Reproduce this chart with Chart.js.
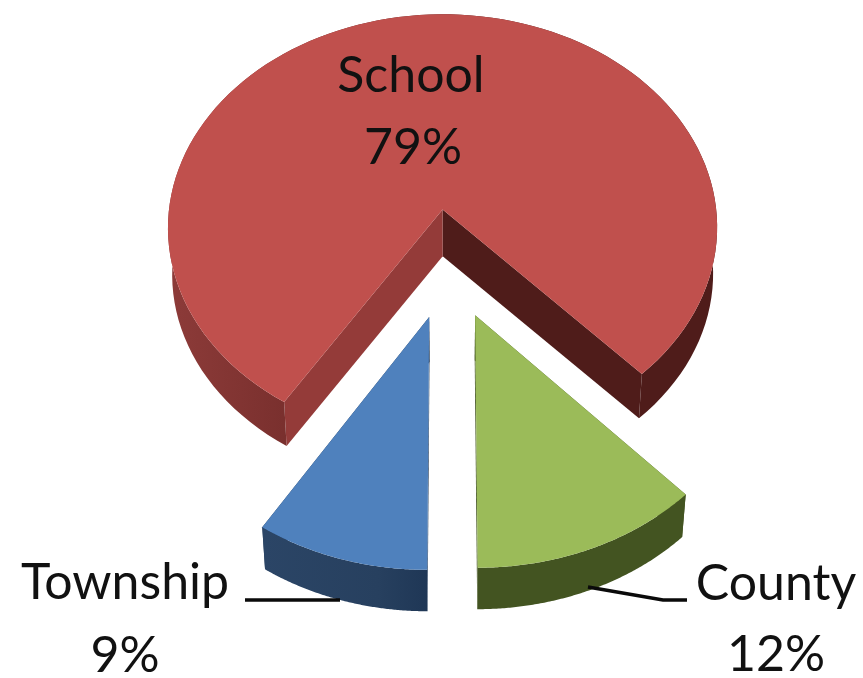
<!DOCTYPE html>
<html>
<head>
<meta charset="utf-8">
<title>Pie</title>
<script src="https://cdn.jsdelivr.net/npm/chart.js@4/dist/chart.umd.js"></script>
<style>
  html, body { margin: 0; padding: 0; background: #fff; }
  canvas { display: block; filter: blur(0.6px); }
</style>
</head>
<body>
<canvas id="myChart" width="863" height="678"></canvas>
<script>
const categories = ['School', 'County', 'Township'];
const shares = [79, 12, 9];
const topColors = ['#c0504d', '#9bbb59', '#4f81bd'];

// wall colours: outer wall gradient stops, then the two cut faces
const wallStops = [
  [[0, '#8d3b39'], [0.21, '#7a302e'], [0.5, '#5a2421'], [0.85, '#4f1c1a'], [1, '#4f1c1a']],
  [[0, '#435421'], [1, '#435421']],
  [[0, '#2b4566'], [0.7, '#27405f'], [1, '#1f3756']]
];
const cutColors = [['#4f1c1a', '#943b39'], ['#435421', '#435421'], ['#1f3756', '#1f3756']];

// label centre x and baselines
const labelX = [[411, 413], [776, 776], [125, 125]];
const labelY = [[92, 164], [600, 671], [599, 672]];

// tilted view of the flat pie
const view = { cx: 449, cy: 263, ax: 279.5, ay: 221, k: 0.087, shrink: 0.985, depth: 46 };

function project(u, v) {
  const w = 1 - view.k * v;
  return [view.cx + view.ax * u / w, view.cy + view.ay * v / w];
}

function drop(p) {
  return [
    view.cx + (p[0] - view.cx) * view.shrink,
    view.cy + (p[1] - view.cy) * view.shrink + view.depth
  ];
}

function fillPoly(ctx, pts, fill) {
  ctx.beginPath();
  pts.forEach((p, i) => i ? ctx.lineTo(p[0], p[1]) : ctx.moveTo(p[0], p[1]));
  ctx.closePath();
  ctx.fillStyle = fill;
  ctx.fill();
}

function sliceOutline(el) {
  const r = el.outerRadius;
  const mid = (el.startAngle + el.endAngle) / 2;
  const ou = el.options.offset * Math.cos(mid) / r;
  const ov = el.options.offset * Math.sin(mid) / r;
  const rim = [];
  const steps = 120;
  for (let i = 0; i <= steps; i++) {
    const a = el.startAngle + (el.endAngle - el.startAngle) * i / steps;
    rim.push(project(ou + Math.cos(a), ov + Math.sin(a)));
  }
  return { apex: project(ou, ov), rim: rim };
}

const tiltedPie = {
  id: 'tiltedPie',
  beforeDatasetsDraw(chart) {
    const ctx = chart.ctx;
    chart.getDatasetMeta(0).data.forEach((el, i) => {
      const { apex, rim } = sliceOutline(el);
      const first = rim[0];
      const last = rim[rim.length - 1];

      fillPoly(ctx, [apex, last, drop(last), drop(apex)], cutColors[i][0]);
      fillPoly(ctx, [apex, first, drop(first), drop(apex)], cutColors[i][1]);

      const xs = rim.map(p => p[0]);
      const grad = ctx.createLinearGradient(Math.min(...xs), 0, Math.max(...xs), 0);
      wallStops[i].forEach(s => grad.addColorStop(s[0], s[1]));
      fillPoly(ctx, rim.concat(rim.map(drop).reverse()), grad);

      fillPoly(ctx, [apex].concat(rim), el.options.backgroundColor);
    });
    return false; // flat arcs replaced by the tilted ones
  },
  // afterDatasetsDraw does not fire once the draw above is cancelled
  afterDraw(chart) {
    const ctx = chart.ctx;
    ctx.save();
    ctx.strokeStyle = '#0a0a0a';
    ctx.lineWidth = 3.5;
    ctx.beginPath();
    ctx.moveTo(245, 600);
    ctx.lineTo(340, 600);
    ctx.moveTo(588, 587);
    ctx.lineTo(663, 600);
    ctx.lineTo(687, 600);
    ctx.stroke();

    ctx.fillStyle = '#111';
    ctx.font = '50px Lato';
    ctx.textAlign = 'center';
    categories.forEach((name, i) => {
      ctx.fillText(name, labelX[i][0], labelY[i][0]);
      ctx.fillText(shares[i] + '%', labelX[i][1], labelY[i][1]);
    });
    ctx.restore();
  }
};

new Chart(document.getElementById('myChart').getContext('2d'), {
  type: 'pie',
  data: {
    labels: categories,
    datasets: [{
      data: shares,
      backgroundColor: topColors,
      borderWidth: 0,
      offset: 75
    }]
  },
  options: {
    responsive: false,
    animation: false,
    rotation: 212.4,
    plugins: { legend: { display: false }, tooltip: { enabled: false } }
  },
  plugins: [tiltedPie]
});
</script>
</body>
</html>
